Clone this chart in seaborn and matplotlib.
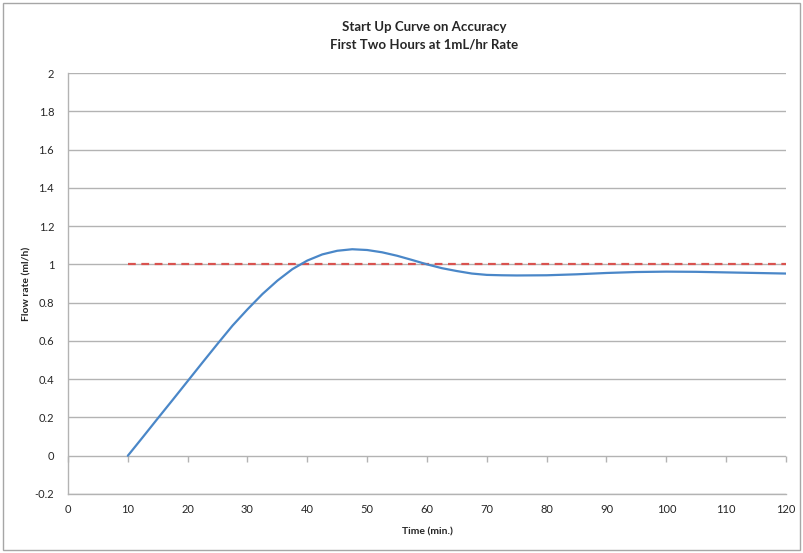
import matplotlib
matplotlib.use("Agg")
import matplotlib.pyplot as plt
import seaborn as sns
import pandas as pd
from matplotlib.patches import Rectangle

time_min = [10, 12.5, 15, 17.5, 20, 22.5, 25, 27.5, 30, 32.5, 35, 37.5, 40, 42.5, 45, 47.5, 50,
            52.5, 55, 57.5, 60, 62.5, 65, 67.5, 70, 72.5, 75, 80, 85, 90, 95, 100, 105, 110,
            115, 120]
flow_rate = [0.0, 0.097, 0.195, 0.292, 0.39, 0.488, 0.585, 0.68, 0.765, 0.845, 0.915, 0.975,
             1.02, 1.052, 1.071, 1.079, 1.075, 1.063, 1.045, 1.023, 1.0, 0.98, 0.965, 0.952,
             0.945, 0.943, 0.942, 0.943, 0.948, 0.955, 0.96, 0.962, 0.961, 0.958, 0.955, 0.952]
target_time = [10, 120]
target_rate = [1.0, 1.0]

x_ticks = [0, 10, 20, 30, 40, 50, 60, 70, 80, 90, 100, 110, 120]
y_ticks = [-0.2, 0, 0.2, 0.4, 0.6, 0.8, 1, 1.2, 1.4, 1.6, 1.8, 2]
y_tick_labels = ["-0.2", "0", "0.2", "0.4", "0.6", "0.8", "1", "1.2", "1.4", "1.6", "1.8", "2"]

sns.set_theme(style="white")
plt.rcParams['font.family'] = ['Lato', 'DejaVu Sans']

fig = plt.figure(figsize=(8.04, 5.53), dpi=100)
fig.patches.append(Rectangle((3 / 804, 3 / 553), 797 / 804, 547 / 553, transform=fig.transFigure,
                             fill=False, edgecolor="#a6a6a6", linewidth=1.0))
ax = fig.add_axes([68 / 804, 1 - 494 / 553, (786 - 68) / 804, (494 - 73) / 553])

df_target = pd.DataFrame({"Time": target_time, "Rate": target_rate})
df_curve = pd.DataFrame({"Time": time_min, "Rate": flow_rate})

ax.set_ylim(-0.2, 2)
ax.set_xlim(0, 120)
ax.set_yticks(y_ticks)
ax.set_yticklabels(y_tick_labels)
ax.set_xticks(x_ticks)
ax.yaxis.grid(True, color="#b3b3b3", linewidth=1.0)
ax.set_axisbelow(True)

sns.lineplot(data=df_target, x="Time", y="Rate", ax=ax, color="#d9524f", linewidth=1.6,
             linestyle=(0, (3.5, 2.5)), zorder=3)
sns.lineplot(data=df_curve, x="Time", y="Rate", ax=ax, color="#4a87c8", linewidth=1.6, zorder=4)

for s in ["top", "right"]:
    ax.spines[s].set_visible(False)
for s in ["left", "bottom"]:
    ax.spines[s].set_color("#b3b3b3")
    ax.spines[s].set_linewidth(1.0)

ax.tick_params(axis="y", length=4, color="#b3b3b3", width=1, labelsize=8, labelcolor="#262626", pad=6)
ax.tick_params(axis="x", length=0, labelsize=8, labelcolor="#262626", pad=7)

sec = ax.secondary_xaxis(0.2 / 2.2)
sec.set_xticks(x_ticks)
sec.tick_params(axis="x", length=4, color="#b3b3b3", width=1, labelbottom=False)
sec.spines["bottom"].set_visible(False)

ax.set_xlabel("Time (min.)", fontsize=7.5, fontweight="bold", color="#262626")
ax.set_ylabel("Flow rate (ml/h)", fontsize=7.5, fontweight="bold", color="#262626")
ax.xaxis.set_label_coords(0.5 + (427 - 427) / 718, -33 / 421)
ax.yaxis.set_label_coords(-37 / 718, 0.5)

fig.text(0.5275, 1 - 36 / 553, "Start Up Curve on Accuracy\nFirst Two Hours at 1mL/hr Rate",
         ha="center", va="center", fontsize=9.5, fontweight="bold", color="#262626", linespacing=1.55)

fig.savefig("out.png", dpi=100)
